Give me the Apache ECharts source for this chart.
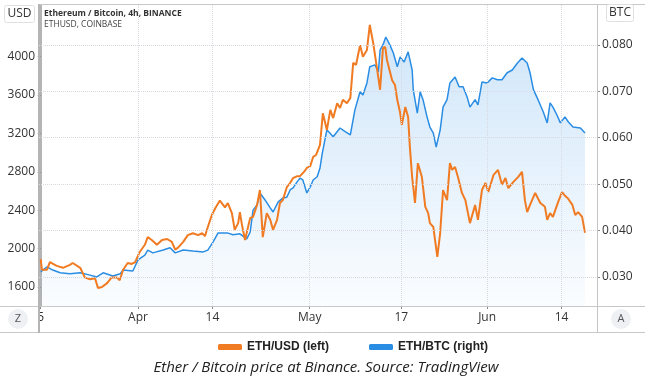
<!DOCTYPE html>
<html>
<head>
<meta charset="utf-8">
<script src="https://cdn.jsdelivr.net/npm/echarts@6/dist/echarts.min.js"></script>
<style>
html, body { margin: 0; padding: 0; background: #fff; }
#chart { width: 652px; height: 378px; }
</style>
</head>
<body>
<div id="chart"></div>
<script>
// days counted from Mar 15
const ethUsd = [
	[0,1890],[0.2,1780],[1.1,1780],[1.6,1860],[2.8,1820],[3.9,1800],[5.1,1830],[5.6,1850],[6.9,1800],[7.7,1700],
	[8.6,1680],[9.5,1690],[10.0,1590],[10.3,1570],[10.7,1600],[11.6,1640],[12.4,1700],[13.3,1700],[13.8,1670],[14.4,1780],
	[15.2,1850],[15.9,1840],[16.5,1860],[17.3,1965],[18.2,2040],[18.7,2120],[19.4,2090],[20.3,2040],[21.2,2090],[22.1,2100],
	[22.9,2070],[23.5,1990],[24.0,2010],[24.9,2070],[25.7,2140],[26.6,2160],[27.5,2140],[28.2,2160],[28.7,2130],[29.2,2225],
	[29.9,2350],[30.5,2420],[31.3,2500],[32.2,2430],[32.7,2475],[33.4,2370],[33.9,2195],[34.5,2265],[34.8,2380],[35.2,2235],
	[35.7,2090],[36.0,2110],[36.6,2320],[37.1,2330],[37.8,2455],[38.3,2610],[38.8,2120],[39.5,2370],[40.1,2300],[40.6,2195],
	[41.3,2300],[41.8,2475],[42.3,2505],[43.0,2640],[43.6,2685],[44.1,2735],[44.8,2755],[45.3,2755],[46.0,2800],[46.5,2840],
	[47.1,2860],[47.6,2955],[48.1,2975],[48.8,3080],[49.3,3410],[50.0,3235],[50.6,3445],[51.1,3360],[51.8,3515],[52.3,3465],
	[52.8,3550],[53.5,3515],[54.1,3570],[54.6,3935],[55.1,3915],[55.8,4120],[56.3,4000],[57.0,4070],[57.5,4330],[58.1,4140],
	[58.8,3860],[59.3,3655],[59.8,4090],[60.2,4100],[60.5,3965],[61.4,3755],[61.9,3705],[62.3,3550],[62.8,3415],[63.1,3290],
	[63.7,3475],[64.2,3370],[64.5,3060],[64.9,2745],[65.4,2475],[65.9,2890],[66.6,2745],[67.2,2435],[67.7,2370],[68.0,2265],
	[68.6,2225],[68.9,2090],[69.3,1915],[69.8,2165],[70.3,2610],[71.0,2505],[71.5,2890],[71.9,2820],[72.4,2850],[72.9,2745],
	[73.6,2580],[74.2,2505],[75.0,2265],[75.9,2455],[76.4,2300],[77.1,2610],[77.7,2685],[78.2,2590],[79.1,2765],[79.9,2820],
	[80.6,2665],[81.2,2735],[81.7,2630],[82.6,2695],[83.4,2745],[84.1,2800],[84.6,2505],[85.0,2380],[85.5,2455],[86.4,2580],
	[87.3,2475],[88.1,2435],[88.5,2300],[89.0,2370],[89.5,2330],[90.4,2485],[91.1,2590],[91.6,2550],[92.1,2525],[92.9,2455],
	[93.4,2350],[93.9,2380],[94.6,2330],[95.1,2165]
];

const ethBtc = [
	[0,0.0311],[1.1,0.0322],[2.1,0.0315],[3.4,0.0309],[5.1,0.0307],[6.9,0.0309],[8.6,0.0304],[9.8,0.0300],[10.9,0.0309],[12.6,0.0302],
	[13.9,0.0307],[14.4,0.0315],[16.1,0.0313],[17.0,0.0337],[18.2,0.0347],[18.7,0.0358],[19.6,0.0352],[21.4,0.0358],[22.6,0.0363],[23.5,0.0352],
	[24.9,0.0358],[26.6,0.0356],[28.4,0.0354],[29.2,0.0358],[30.1,0.0375],[31.0,0.0395],[32.6,0.0395],[33.6,0.0391],[34.8,0.0393],[36.0,0.0382],
	[36.6,0.0397],[37.1,0.0444],[37.8,0.0455],[38.3,0.0481],[39.2,0.0466],[40.1,0.0449],[40.6,0.0440],[41.5,0.0462],[42.3,0.0470],[43.0,0.0472],
	[43.6,0.0488],[44.1,0.0492],[44.8,0.0505],[45.3,0.0513],[45.8,0.0509],[46.5,0.0481],[47.1,0.0494],[47.6,0.0509],[48.3,0.0516],[48.8,0.0535],
	[49.2,0.0567],[50.0,0.0617],[51.1,0.0602],[52.3,0.0621],[53.2,0.0613],[54.1,0.0606],[54.9,0.0660],[55.8,0.0699],[56.3,0.0692],[57.0,0.0718],
	[57.5,0.0753],[58.4,0.0757],[59.0,0.0742],[59.3,0.0789],[59.8,0.0800],[60.3,0.0817],[61.0,0.0800],[61.6,0.0783],[62.3,0.0753],[62.8,0.0774],
	[63.5,0.0763],[64.2,0.0785],[64.5,0.0781],[64.9,0.0746],[65.1,0.0703],[65.8,0.0653],[66.3,0.0699],[66.8,0.0682],[67.5,0.0645],[68.0,0.0623],
	[68.6,0.0610],[69.1,0.0580],[69.8,0.0617],[70.3,0.0666],[71.0,0.0682],[71.5,0.0718],[72.4,0.0731],[73.1,0.0710],[73.8,0.0710],[74.5,0.0688],
	[75.0,0.0666],[75.9,0.0682],[76.4,0.0671],[77.1,0.0720],[78.0,0.0718],[78.9,0.0729],[79.8,0.0725],[80.6,0.0725],[81.5,0.0740],[82.4,0.0746],
	[83.3,0.0761],[84.1,0.0772],[85.0,0.0761],[85.5,0.0740],[86.1,0.0703],[86.9,0.0682],[87.8,0.0656],[88.5,0.0632],[89.0,0.0675],[89.5,0.0666],
	[90.2,0.0649],[90.8,0.0632],[91.6,0.0645],[92.2,0.0634],[93.0,0.0623],[94.3,0.0621],[95.1,0.0610]
];

const tickDays = [0, 17, 30, 47, 63, 78, 91];
const tickLabels = ['5', 'Apr', '14', 'May', '17', 'Jun', '14'];
const usdTicks = [1600, 2000, 2400, 2800, 3200, 3600, 4000];
const btcTicks = [0.03, 0.04, 0.05, 0.06, 0.07, 0.08];

const labelFont = { fontFamily: '"Open Sans", sans-serif', fontSize: 12, color: '#333' };
const gridLine = { color: '#d6dae0', type: 'dotted', width: 1 };

const chart = echarts.init(document.getElementById('chart'));

const hLine = (x1, y1, x2, y2, color, w) => ({
	type: 'line', silent: true, z: 1,
	shape: { x1: x1, y1: y1, x2: x2, y2: y2 },
	style: { stroke: color, lineWidth: w || 1 }
});

const option = {
	animation: false,
	grid: { left: 39, right: 55, top: 5, bottom: 72 },
	xAxis: {
		type: 'value',
		min: -0.3,
		max: 97.2,
		splitLine: { show: false },
		axisLine: { show: false },
		axisTick: { show: true, customValues: tickDays, length: 3, lineStyle: { color: '#888' } },
		axisLabel: Object.assign({
			customValues: tickDays,
			margin: 6,
			formatter: (v) => tickLabels[tickDays.indexOf(v)]
		}, labelFont)
	},
	yAxis: [{
		type: 'value',
		position: 'left',
		min: 1402,
		max: 4538,
		splitLine: { show: false },
		axisLine: { show: true, lineStyle: { color: '#b4b4b4', width: 2 } },
		axisTick: { show: true, customValues: usdTicks, length: 3, lineStyle: { color: '#888' } },
		axisLabel: Object.assign({ customValues: usdTicks, margin: 4, formatter: (v) => String(v) }, labelFont)
	}, {
		type: 'value',
		position: 'right',
		min: 0.02375,
		max: 0.0886,
		splitLine: { show: false },
		axisLine: { show: true, lineStyle: { color: '#c4c4c4', width: 1 } },
		axisTick: { show: true, customValues: btcTicks, length: 3, lineStyle: { color: '#888' } },
		axisLabel: Object.assign({
			customValues: btcTicks,
			margin: 5,
			formatter: (v) => v.toFixed(3)
		}, labelFont)
	}],
	legend: {
		left: 213,
		top: 336,
		itemWidth: 24,
		itemHeight: 6,
		itemGap: 40,
		icon: 'roundRect',
		textStyle: { fontFamily: '"Liberation Sans", Arial, sans-serif', fontSize: 12, fontWeight: 'bold', color: '#222' },
		data: ['ETH/USD (left)', 'ETH/BTC (right)']
	},
	series: [{
		name: 'ETH/BTC (right)',
		type: 'line',
		yAxisIndex: 1,
		data: ethBtc,
		showSymbol: false,
		color: '#2a8de4',
		lineStyle: { width: 1.5, color: '#2a8de4' },
		areaStyle: {
			color: new echarts.graphic.LinearGradient(0, 0, 0, 1, [
				{ offset: 0, color: 'rgba(40,140,230,0.30)' },
				{ offset: 1, color: 'rgba(40,140,230,0.03)' }
			])
		},
		markLine: {
			silent: true,
			symbol: 'none',
			label: { show: false },
			lineStyle: gridLine,
			data: btcTicks.map(v => ({ yAxis: v })).concat(tickDays.slice(1).map(d => ({ xAxis: d })))
		}
	}, {
		name: 'ETH/USD (left)',
		type: 'line',
		yAxisIndex: 0,
		data: ethUsd,
		showSymbol: false,
		color: '#f07b22',
		lineStyle: { width: 2, color: '#f07b22' }
	}],
	graphic: [
		hLine(39, 4.5, 645, 4.5, '#c8c8c8'),
		hLine(0, 306.5, 645, 306.5, '#c8c8c8'),
		hLine(0, 332.5, 645, 332.5, '#c8c8c8'),
		hLine(39, 4, 39, 333, '#b4b4b4', 2),
		hLine(597.5, 4, 597.5, 333, '#c4c4c4'),
		{
			type: 'rect', z: 5,
			shape: { x: 4.5, y: 5.5, width: 30, height: 17, r: 2 },
			style: { fill: '#fff', stroke: '#e0e0e0' }
		},
		{
			type: 'text', z: 6,
			style: { x: 19.5, y: 14, text: 'USD', align: 'center', verticalAlign: 'middle', font: '12px "Open Sans", sans-serif', fill: '#333' }
		},
		{
			type: 'rect', z: 5,
			shape: { x: 606.5, y: 4.5, width: 27, height: 17, r: 2 },
			style: { fill: '#fff', stroke: '#e0e0e0' }
		},
		{
			type: 'text', z: 6,
			style: { x: 620, y: 13, text: 'BTC', align: 'center', verticalAlign: 'middle', font: '12px "Open Sans", sans-serif', fill: '#333' }
		},
		{
			type: 'text', z: 6,
			style: { x: 44, y: 14, text: 'Ethereum / Bitcoin, 4h, BINANCE', verticalAlign: 'middle', font: 'bold 8.5px "Open Sans", sans-serif', fill: '#333' }
		},
		{
			type: 'text', z: 6,
			style: { x: 44, y: 25, text: 'ETHUSD, COINBASE', verticalAlign: 'middle', font: '8.5px "Open Sans", sans-serif', fill: '#444' }
		},
		{ type: 'circle', z: 5, shape: { cx: 18, cy: 319, r: 10 }, style: { fill: '#eef0f3' } },
		{
			type: 'text', z: 6,
			style: { x: 18, y: 319, text: 'Z', align: 'center', verticalAlign: 'middle', font: '11px "Open Sans", sans-serif', fill: '#555' }
		},
		{ type: 'circle', z: 5, shape: { cx: 621, cy: 319, r: 10 }, style: { fill: '#eef0f3' } },
		{
			type: 'text', z: 6,
			style: { x: 621, y: 319, text: 'A', align: 'center', verticalAlign: 'middle', font: '11px "Open Sans", sans-serif', fill: '#555' }
		},
		{
			type: 'text', z: 6,
			style: { x: 326, y: 368, text: 'Ether / Bitcoin price at Binance. Source: TradingView', align: 'center', verticalAlign: 'middle', font: 'italic 15px "Open Sans", sans-serif', fill: '#222' }
		}
	]
};
chart.setOption(option);
</script>
</body>
</html>
